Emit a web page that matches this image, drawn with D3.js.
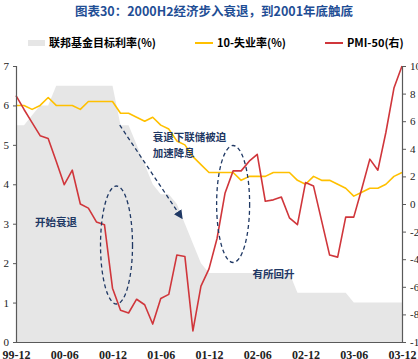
<!DOCTYPE html>
<html>
<head>
<meta charset="utf-8">
<script src="https://cdn.jsdelivr.net/npm/d3@7"></script>
<style>
    body { margin: 0; background: #fff; }
    svg { display: block; }
    .cjk { font-family: "Noto Sans CJK SC", "Noto Sans", sans-serif; }
    .num { font-family: "Liberation Serif", "DejaVu Serif", serif; }
</style>
</head>
<body>
<svg width="418" height="359"></svg>
<script>
// month labels, 1999-12 .. 2003-12
const months = [
    '99-12','00-01','00-02','00-03','00-04','00-05','00-06','00-07','00-08','00-09','00-10','00-11',
    '00-12','01-01','01-02','01-03','01-04','01-05','01-06','01-07','01-08','01-09','01-10','01-11',
    '01-12','02-01','02-02','02-03','02-04','02-05','02-06','02-07','02-08','02-09','02-10','02-11',
    '02-12','03-01','03-02','03-03','03-04','03-05','03-06','03-07','03-08','03-09','03-10','03-11',
    '03-12'
];

// fed funds target rate (%)
const fedRate = [
    5.5, 5.5, 5.75, 6.0, 6.0, 6.5, 6.5, 6.5, 6.5, 6.5, 6.5, 6.5,
    6.5, 5.5, 5.5, 5.0, 4.5, 4.0, 3.75, 3.75, 3.5, 3.0, 2.5, 2.0,
    1.75, 1.75, 1.75, 1.75, 1.75, 1.75, 1.75, 1.75, 1.75, 1.75, 1.75, 1.25,
    1.25, 1.25, 1.25, 1.25, 1.25, 1.25, 1.0, 1.0, 1.0, 1.0, 1.0, 1.0,
    1.0
];

// 10 - unemployment rate
const tenMinusUnemp = [
    6.0, 6.0, 5.9, 6.0, 6.2, 6.0, 6.0, 6.0, 5.9, 6.1, 6.1, 6.1,
    6.1, 5.8, 5.8, 5.7, 5.6, 5.7, 5.5, 5.4, 5.1, 5.0, 4.7, 4.5,
    4.3, 4.3, 4.3, 4.3, 4.1, 4.2, 4.2, 4.2, 4.3, 4.3, 4.3, 4.1,
    4.0, 4.2, 4.1, 4.1, 4.0, 3.9, 3.7, 3.8, 3.9, 3.9, 4.0, 4.2,
    4.3
];

// PMI - 50 (right axis)
const pmiMinus50 = [
    7.85, 6.85, 5.9, 4.95, 4.75, 3.1, 1.4, 2.45, 0.0, -0.3, -1.3, -1.5,
    -6.1, -7.7, -7.9, -6.9, -7.3, -8.7, -6.85, -6.55, -3.7, -3.8, -9.2, -5.95,
    -4.7, -2.5, 0.8, 2.4, 2.4, 3.1, 3.6, 0.2, 0.3, 0.5, -1.0, -1.5,
    1.55, 1.3, -1.2, -3.7, -3.85, -0.95, -0.95, 1.1, 3.25, 2.45, 5.2, 8.4,
    10.0
];

const leftTicks = [0, 1, 2, 3, 4, 5, 6, 7];
const rightTicks = [-10, -8, -6, -4, -2, 0, 2, 4, 6, 8, 10];
const xTickIdx = [0, 6, 12, 18, 24, 30, 36, 42, 48];

const title = '图表30：2000H2经济步入衰退，到2001年底触底';
const legendNames = ['联邦基金目标利率(%)', '10-失业率(%)', 'PMI-50(右)'];

const COLORS = {
    fed: '#e6e6e6',
    unemp: '#ffc000',
    pmi: '#d0363b',
    navy: '#1f3864',
    title: '#1f4e95',
    axis: '#595959',
};

const svg = d3.select('svg');

const plot = { left: 16, right: 402, top: 66, bottom: 342 };

const x = d3.scaleLinear().domain([0, months.length - 1]).range([plot.left, plot.right]);
const yL = d3.scaleLinear().domain([0, 7]).range([plot.bottom, plot.top]);
const yR = d3.scaleLinear().domain([-10, 10]).range([plot.bottom, plot.top]);

// TITLE

svg.append('text')
    .attr('class', 'cjk')
    .attr('x', 214).attr('y', 16)
    .attr('text-anchor', 'middle')
    .attr('font-size', 12.5)
    .attr('font-weight', 'bold')
    .attr('fill', COLORS.title)
    .text(title);

// LEGEND

const gLeg = svg.append('g').attr('class', 'cjk').attr('font-size', 11).attr('font-weight', 'bold');

gLeg.append('rect').attr('x', 28).attr('y', 40).attr('width', 17).attr('height', 6).attr('fill', COLORS.fed);
gLeg.append('text').attr('x', 49).attr('y', 47).text(legendNames[0]);

gLeg.append('line').attr('x1', 195).attr('x2', 213).attr('y1', 43).attr('y2', 43)
    .attr('stroke', COLORS.unemp).attr('stroke-width', 2);
gLeg.append('text').attr('x', 217).attr('y', 47).text(legendNames[1]);

gLeg.append('line').attr('x1', 325).attr('x2', 343).attr('y1', 43).attr('y2', 43)
    .attr('stroke', COLORS.pmi).attr('stroke-width', 2);
gLeg.append('text').attr('x', 347).attr('y', 47).text(legendNames[2]);

// SERIES

const area = d3.area()
    .x((d, i) => x(i))
    .y0(yL(0))
    .y1(d => yL(d));

svg.append('path')
    .datum(fedRate)
    .attr('d', area)
    .attr('fill', COLORS.fed);

const lineL = d3.line().x((d, i) => x(i)).y(d => yL(d));
const lineR = d3.line().x((d, i) => x(i)).y(d => yR(d));

svg.append('path')
    .datum(tenMinusUnemp)
    .attr('d', lineL)
    .attr('fill', 'none')
    .attr('stroke', COLORS.unemp)
    .attr('stroke-width', 1.6)
    .attr('stroke-linejoin', 'round');

svg.append('path')
    .datum(pmiMinus50)
    .attr('d', lineR)
    .attr('fill', 'none')
    .attr('stroke', COLORS.pmi)
    .attr('stroke-width', 1.6)
    .attr('stroke-linejoin', 'round');

// AXES

const gLeftAxis = svg.append('g')
    .attr('class', 'num')
    .attr('transform', 'translate(' + plot.left + ',0)')
    .call(d3.axisLeft(yL).tickValues(leftTicks).tickSize(3).tickPadding(4).tickFormat(d3.format('d')));

const gRightAxis = svg.append('g')
    .attr('class', 'num')
    .attr('transform', 'translate(' + plot.right + ',0)')
    .call(d3.axisRight(yR).tickValues(rightTicks).tickSize(4).tickPadding(4).tickFormat(d => d < 0 ? '-' + Math.abs(d) : d));

const gBottomAxis = svg.append('g')
    .attr('class', 'num')
    .attr('transform', 'translate(0,' + plot.bottom + ')')
    .call(d3.axisBottom(x).tickValues(xTickIdx).tickSize(0).tickFormat(i => months[i]));

[gLeftAxis, gRightAxis, gBottomAxis].forEach(g => {
    g.selectAll('.domain').attr('stroke', COLORS.axis).attr('stroke-width', 1.2);
    g.selectAll('.tick line').attr('stroke', COLORS.axis);
    g.selectAll('text').attr('fill', '#222').attr('font-family', null);
});

gLeftAxis.selectAll('text').attr('font-size', 11);
gRightAxis.selectAll('text').attr('font-size', 11);
gBottomAxis.selectAll('text')
    .attr('font-size', 12)
    .attr('font-weight', 'bold')
    .attr('y', 17)
    .attr('dy', 0);

// ANNOTATIONS

const gNote = svg.append('g');

function ellipse(idx, val, rx, ry) {
    gNote.append('ellipse')
        .attr('cx', x(idx)).attr('cy', yL(val))
        .attr('rx', rx).attr('ry', ry)
        .attr('fill', 'none')
        .attr('stroke', COLORS.navy)
        .attr('stroke-width', 1.3)
        .attr('stroke-dasharray', '4,3');
}

ellipse(12.5, 2.46, 16, 59);
ellipse(27.0, 3.5, 16.5, 58.5);

svg.append('defs').append('marker')
    .attr('id', 'arrow')
    .attr('viewBox', '0 0 10 10')
    .attr('refX', 8).attr('refY', 5)
    .attr('markerWidth', 7).attr('markerHeight', 7)
    .attr('orient', 'auto')
    .append('path')
    .attr('d', 'M0,0 L10,5 L0,10 z')
    .attr('fill', COLORS.navy);

gNote.append('line')
    .attr('x1', x(12.9)).attr('y1', yL(5.5))
    .attr('x2', x(20.6)).attr('y2', yL(3.15))
    .attr('stroke', COLORS.navy)
    .attr('stroke-width', 1.3)
    .attr('stroke-dasharray', '4,3')
    .attr('marker-end', 'url(#arrow)');

const notes = [
    { text: '开始衰退', idx: 2.35, val: 3.05 },
    { text: '衰退下联储被迫', idx: 17.0, val: 5.2 },
    { text: '加速降息', idx: 17.0, val: 4.8 },
    { text: '有所回升', idx: 29.4, val: 1.73 },
];

gNote.selectAll('text.note')
    .data(notes)
    .join('text')
    .attr('class', 'note cjk')
    .attr('x', d => x(d.idx))
    .attr('y', d => yL(d.val))
    .attr('dy', '0.36em')
    .attr('font-size', 10.5)
    .attr('font-weight', 'bold')
    .attr('fill', COLORS.navy)
    .text(d => d.text);
</script>
</body>
</html>
